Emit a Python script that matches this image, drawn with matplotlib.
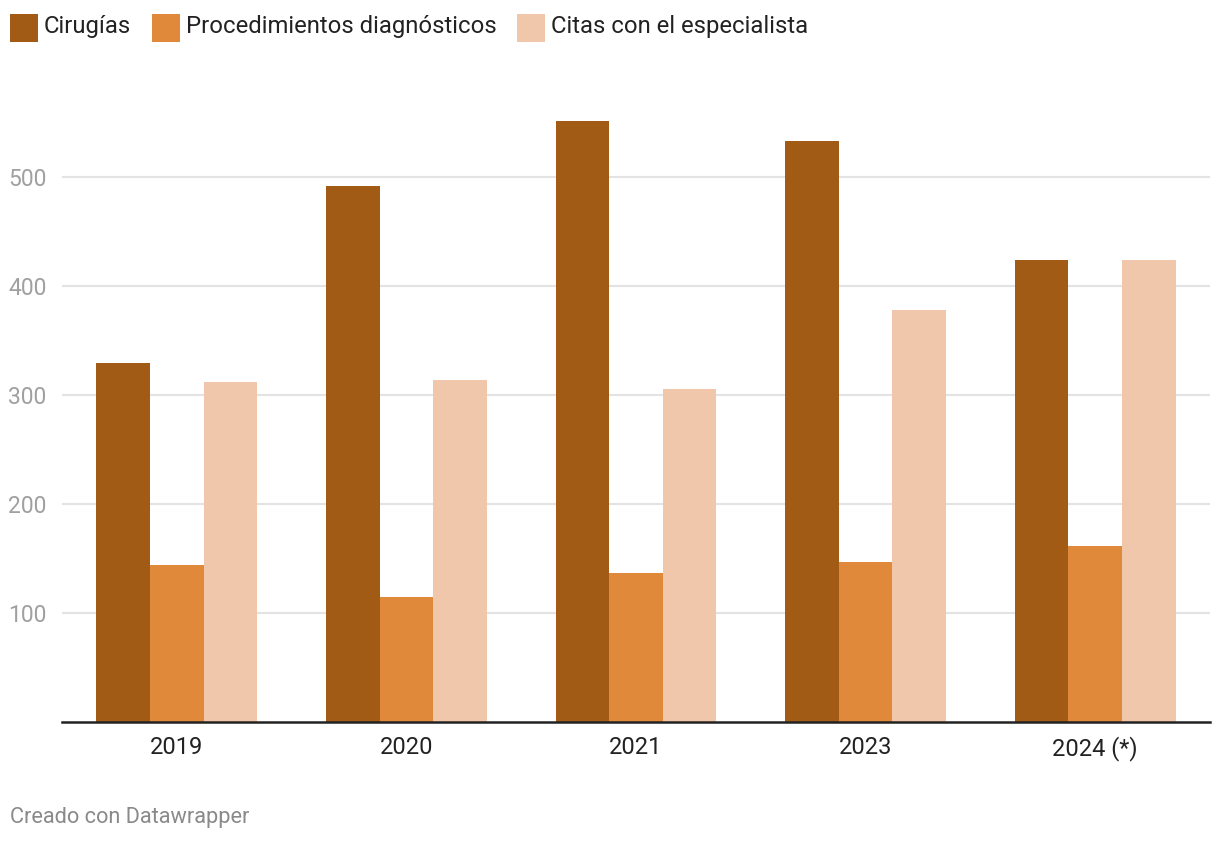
import matplotlib
matplotlib.use("Agg")
import matplotlib.pyplot as plt
import numpy as np
from matplotlib.patches import Rectangle

plt.rcParams['font.family'] = ['Roboto', 'DejaVu Sans']

categories = ["2019", "2020", "2021", "2023", "2024 (*)"]
series_names = ["Cirugías", "Procedimientos diagnósticos", "Citas con el especialista"]
cirugias = [329, 492, 551, 533, 424]
procedimientos = [144, 115, 137, 147, 161]
citas = [312, 314, 305, 378, 424]
colors = ["#a15b15", "#e0893a", "#f0c7aa"]
yticks = [100, 200, 300, 400, 500]

W, H = 1220, 844
fig = plt.figure(figsize=(W / 100, H / 100), dpi=100)
ax = fig.add_axes([62 / W, (H - 722) / H, (1210 - 62) / W, (722 - 70) / H])

x = np.arange(len(categories))
bw = 0.70 / 3
for i, (vals, c) in enumerate(zip([cirugias, procedimientos, citas], colors)):
    ax.bar(x + (i - 1) * bw, vals, width=bw, color=c, zorder=3, linewidth=0)

ax.set_xlim(-0.5, len(categories) - 0.5)
ax.set_ylim(0, 598)
ax.set_yticks(yticks)
ax.set_yticklabels([str(t) for t in yticks], color="#a0a0a0", fontsize=16.5)
ax.yaxis.grid(True, color="#e3e3e3", linewidth=1.5, zorder=0)
ax.tick_params(axis='y', length=0, pad=11)
ax.set_xticks(x)
ax.set_xticklabels(categories, fontsize=17, color="#222222")
ax.tick_params(axis='x', length=0, pad=10)
for s in ["top", "right", "left"]:
    ax.spines[s].set_visible(False)
ax.spines["bottom"].set_color("#222222")
ax.spines["bottom"].set_linewidth(1.8)
ax.spines["bottom"].set_zorder(4)

# Legend
leg_x = [10, 152, 517]
for lx, name, c in zip(leg_x, series_names, colors):
    fig.patches.append(Rectangle((lx / W, (H - 42) / H), 28 / W, 28 / H,
                                 transform=fig.transFigure, color=c, linewidth=0))
    fig.text((lx + 34) / W, (H - 27) / H, name, fontsize=17.2, color="#222222",
             va="center", ha="left")

fig.text(10 / W, (H - 818) / H, "Creado con Datawrapper", fontsize=15.7,
         color="#8a8a8a", va="center", ha="left")

fig.savefig("out.png", dpi=100)
